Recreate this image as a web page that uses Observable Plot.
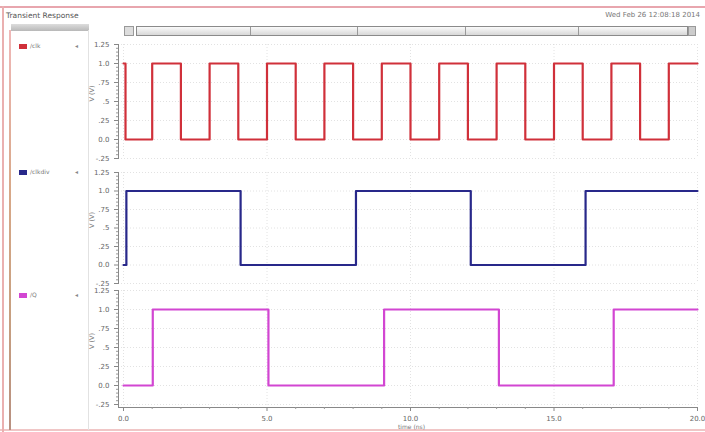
<!DOCTYPE html>
<html><head><meta charset="utf-8">
<script src="https://cdn.jsdelivr.net/npm/d3@7"></script>
<script src="https://cdn.jsdelivr.net/npm/@observablehq/plot@0.6"></script>
<style>
html,body{margin:0;padding:0;background:#fff;}
#root{position:relative;width:705px;height:432px;overflow:hidden;background:#fff;font-family:"DejaVu Sans",sans-serif;color:#666;}
.abs{position:absolute;}
svg{overflow:visible;}
</style></head>
<body><div id="root"></div>
<script>
// ---- data ----
const title = "Transient Response";
const dateText = "Wed Feb 26 12:08:18 2014";
const signalNames = ["/clk", "/clkdiv", "/Q"];
const signalColors = ["#d0303a", "#28288a", "#d246d2"];

const clkTime  = [0, 0.07, 1, 2, 3, 4, 5, 6, 7, 8, 9, 10, 11, 12, 13, 14, 15, 16, 17, 18, 19, 20];
const clkValue = [1, 0,    1, 0, 1, 0, 1, 0, 1, 0, 1, 0,  1,  0,  1,  0,  1,  0,  1,  0,  1,  1];

const clkdivTime  = [0, 0.1, 4.08, 8.1, 12.1, 16.1, 20];
const clkdivValue = [0, 1,   0,    1,   0,    1,    1];

const qTime  = [0, 1.02, 5.05, 9.08, 13.08, 17.08, 20];
const qValue = [0, 1,    0,    1,    0,     1,     1];

const xTicks = [0, 5, 10, 15, 20];
const xTickLabels = ["0.0", "5.0", "10.0", "15.0", "20.0"];
const xMinorTicks = [1,2,3,4,6,7,8,9,11,12,13,14,16,17,18,19];
const yTicks = [1.25, 1.0, 0.75, 0.5, 0.25, 0.0, -0.25];
const yTickLabels = ["1.25", "1.0", ".75", ".5", ".25", "0.0", "-.25"];
const yMinorTicks = [1.2,1.15,1.1,1.05,0.95,0.9,0.85,0.8,0.7,0.65,0.6,0.55,0.45,0.4,0.35,0.3,0.2,0.15,0.1,0.05,-0.05,-0.1,-0.15,-0.2];
const xLabel = "time (ns)";
const yLabel = "V (V)";

// ---- layout ----
const root = document.getElementById("root");
function div(style, text) {
  const d = document.createElement("div");
  d.className = "abs";
  d.setAttribute("style", style);
  if (text) d.textContent = text;
  root.appendChild(d);
  return d;
}
// outer borders
div("left:0;top:6px;width:705px;height:2px;background:#e8a6ae;");
div("left:0;top:429px;width:705px;height:2px;background:#f0c6c6;");
div("left:2px;top:6px;width:2px;height:426px;background:#eab0b0;");
div("left:9px;top:30px;width:2px;height:400px;background:linear-gradient(#f0b8b8,#d8a888 40%,#c8a080 70%,#b89080);");
// title + date
div("left:6px;top:11px;font-size:7.5px;color:#555;", title);
div("right:5px;top:11px;font-size:7px;color:#777;", dateText);
// legend header bar
div("left:11px;top:24px;width:78px;height:7px;background:linear-gradient(#ddd,#b8b8b8);");
div("left:88px;top:30px;width:1px;height:400px;background:#e2e2e2;");
// scrollbar
div("left:124px;top:26px;width:10px;height:10px;background:#ddd;border:1px solid #999;box-sizing:border-box;");
div("left:136px;top:26px;width:552px;height:10px;background:linear-gradient(#fafafa,#d8d8d8);border:1px solid #8a8a8a;box-sizing:border-box;");
[250, 357, 465, 578].forEach(x => div(`left:${x}px;top:27px;width:1px;height:8px;background:#999;`));
div("left:688px;top:26px;width:8px;height:10px;background:#ccc;border:1px solid #999;box-sizing:border-box;");

// legend entries
const legendTops = [44, 170, 293];
signalNames.forEach((n, i) => {
  div(`left:19px;top:${legendTops[i]}px;width:8px;height:5px;background:${signalColors[i]};`);
  div(`left:30px;top:${legendTops[i]-2}px;font-size:6px;color:#777;`, n);
  div(`left:75px;top:${legendTops[i]-2}px;font-size:6px;color:#888;`, "◂");
});

// ---- panels ----
const series = [
  {t: clkTime, v: clkValue},
  {t: clkdivTime, v: clkdivValue},
  {t: qTime, v: qValue}
];
const panelTops = [36, 164, 282];
const panelHeights = [130, 127, 150];
const panelMB = [8, 8, 25];

series.forEach((s, i) => {
  const data = s.t.map((t, k) => ({t, v: s.v[k]}));
  const last = i === 2;
  const marks = [
    Plot.gridX(xTicks, {stroke: "#cfcfcf", strokeOpacity: 0.6, strokeDasharray: "1,2"}),
    Plot.gridY(yTicks, {stroke: "#cfcfcf", strokeOpacity: 0.6, strokeDasharray: "1,2"}),
    Plot.frame({anchor: "left", stroke: "#888"}),
    Plot.axisY(yMinorTicks, {tickSize: 2, stroke: "#999", text: null, label: null}),
    Plot.axisY(yTicks, {tickSize: 4, stroke: "#888", fill: "#666", fontSize: 7,
      tickFormat: d => yTickLabels[yTicks.indexOf(d)], label: null}),
    Plot.text([yLabel], {frameAnchor: "left", dx: -27, rotate: -90, fontSize: 6.5, fill: "#777"}),
    Plot.line(data, {x: "t", y: "v", curve: "step-after", stroke: signalColors[i], strokeWidth: 2.2})
  ];
  if (last) {
    marks.push(
      Plot.frame({anchor: "bottom", stroke: "#888"}),
      Plot.axisX(xMinorTicks, {tickSize: 2, stroke: "#999", text: null, label: null}),
      Plot.axisX(xTicks, {tickSize: 4, stroke: "#888", fill: "#666", fontSize: 7,
        tickFormat: d => xTickLabels[xTicks.indexOf(d)], label: null})
    );
  }
  const svg = Plot.plot({
    width: 705, height: panelHeights[i],
    marginLeft: 118, marginRight: 8, marginTop: 8, marginBottom: panelMB[i],
    insetLeft: 5, insetBottom: last ? 3 : 0,
    x: last ? {domain: [0, 20]} : {domain: [0, 20], axis: null},
    y: {domain: [-0.25, 1.25]},
    style: {background: "transparent", fontFamily: "DejaVu Sans, sans-serif", color: "#666"},
    marks
  });
  svg.style.position = "absolute";
  svg.style.left = "0px";
  svg.style.top = panelTops[i] + "px";
  root.appendChild(svg);
});
div("left:398px;top:423px;font-size:6px;color:#777;", xLabel);
</script>
</body></html>
